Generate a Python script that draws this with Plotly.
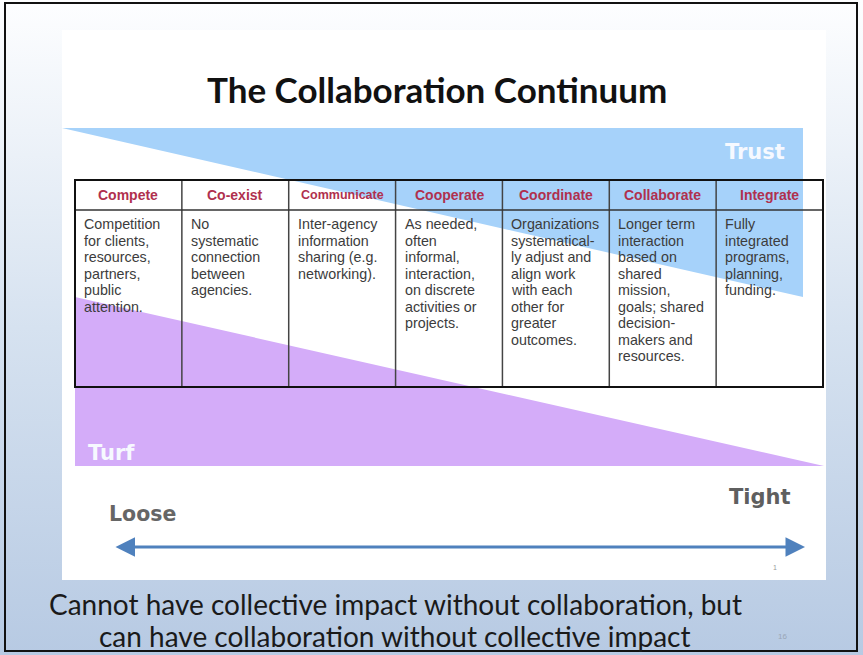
import plotly.graph_objects as go

# ---------------- data (text content of the slide) ----------------
title = "The Collaboration Continuum"
stages = ["Compete", "Co-exist", "Communicate", "Cooperate",
          "Coordinate", "Collaborate", "Integrate"]
descriptions = [
    ["Competition", "for clients,", "resources,", "partners,", "public", "attention."],
    ["No", "systematic", "connection", "between", "agencies."],
    ["Inter-agency", "information", "sharing (e.g.", "networking)."],
    ["As needed,", "often", "informal,", "interaction,", "on discrete",
     "activities or", "projects."],
    ["Organizations", "systematical-", "ly adjust and", "align work", "with each",
     "other for", "greater", "outcomes."],
    ["Longer term", "interaction", "based on", "shared", "mission,",
     "goals; shared", "decision-", "makers and", "resources."],
    ["Fully", "integrated", "programs,", "planning,", "funding."],
]
top_label = "Trust"
bottom_label = "Turf"
scale_ends = ["Loose", "Tight"]
caption = ["Cannot have collective impact without collaboration, but",
           "can have collaboration without collective impact"]
slide_number = "16"

# ---------------- layout geometry / style ----------------
W, H = 863, 655
PANEL = (62, 30, 826, 580)
TABLE = (75, 180, 823, 387)
HEADER_H = 30
LINE_H = 16.5
BLUE = "#a6d2fa"
PURPLE = "#d4acf9"
HEADER_SIZE = 14
HEADER_SIZE_SMALL = {"Communicate": 12.5}

fig = go.Figure()

# slide background with gradient
fig.add_trace(go.Scatter(
    x=[0, W, W, 0, 0], y=[0, 0, H, H, 0], mode="lines", fill="toself",
    line=dict(width=0), hoverinfo="skip", showlegend=False,
    fillgradient=dict(type="vertical", start=0, stop=H,
                      colorscale=[[0, "#fdfeff"], [0.2, "#eef3f9"],
                                  [0.5, "#d6e2f0"], [1, "#b7cae3"]]),
))

shapes = []
# white panel
shapes.append(dict(type="rect", x0=PANEL[0], y0=PANEL[1], x1=PANEL[2], y1=PANEL[3],
                   fillcolor="white", line=dict(width=0)))
# trust (blue) wedge
shapes.append(dict(type="path", path="M 62,128 L 803,128 L 803,297 Z",
                   fillcolor=BLUE, line=dict(width=0)))
# turf (purple) wedge
shapes.append(dict(type="path", path="M 75,297 L 75,466 L 824,466 Z",
                   fillcolor=PURPLE, line=dict(width=0)))

# table grid
tx0, ty0, tx1, ty1 = TABLE
n = len(stages)
cw = (tx1 - tx0) / n
for k in range(1, n):
    xk = tx0 + k * cw
    shapes.append(dict(type="line", x0=xk, x1=xk, y0=ty0, y1=ty1,
                       line=dict(color="#444444", width=1.5)))
shapes.append(dict(type="line", x0=tx0, x1=tx1, y0=ty0 + HEADER_H, y1=ty0 + HEADER_H,
                   line=dict(color="#333333", width=1.5)))
shapes.append(dict(type="rect", x0=tx0, y0=ty0, x1=tx1, y1=ty1,
                   line=dict(color="#111111", width=2), fillcolor="rgba(0,0,0,0)"))
# outer slide frame
shapes.append(dict(type="rect", x0=5, y0=3, x1=857, y1=651,
                   line=dict(color="#111111", width=2), fillcolor="rgba(0,0,0,0)"))

ann = []
# title
ann.append(dict(x=437, y=89, text=title, showarrow=False, xanchor="center", yanchor="middle",
                font=dict(family="Lato", size=35, color="#111111", weight="bold")))
# header + body text
for k, (stage, lines) in enumerate(zip(stages, descriptions)):
    cx = tx0 + (k + 0.5) * cw
    ann.append(dict(x=cx, y=ty0 + HEADER_H / 2, text=stage, showarrow=False,
                    xanchor="center", yanchor="middle",
                    font=dict(family="Liberation Sans",
                              size=HEADER_SIZE_SMALL.get(stage, HEADER_SIZE),
                              color="#b0304e", weight="bold")))
    for i, line in enumerate(lines):
        ann.append(dict(x=tx0 + k * cw + 7, y=ty0 + HEADER_H + 14 + i * LINE_H, text=line,
                        showarrow=False, xanchor="left", yanchor="middle",
                        font=dict(family="Liberation Sans", size=14.3, color="#3c3c3c")))

# Trust / Turf
ann.append(dict(x=755, y=152, text=top_label, showarrow=False, xanchor="center", yanchor="middle",
                font=dict(family="DejaVu Sans", size=21, color="#f6f9ff", weight="bold")))
ann.append(dict(x=86, y=453, text=bottom_label, showarrow=False, xanchor="left", yanchor="middle",
                font=dict(family="DejaVu Sans", size=21, color="#f6f9ff", weight="bold")))
# Loose / Tight
ann.append(dict(x=107, y=514, text=scale_ends[0], showarrow=False, xanchor="left", yanchor="middle",
                font=dict(family="DejaVu Sans", size=20.5, color="#666666", weight="bold")))
ann.append(dict(x=793, y=497, text=scale_ends[1], showarrow=False, xanchor="right", yanchor="middle",
                font=dict(family="DejaVu Sans", size=21, color="#5f5f5f", weight="bold")))
# double arrow
ann.append(dict(x=805, y=547, ax=114, ay=547, xref="x", yref="y", axref="x", ayref="y",
                text="", showarrow=True, arrowhead=2, startarrowhead=2, arrowside="end+start",
                arrowsize=1.3, startarrowsize=1.3, arrowwidth=3, arrowcolor="#4f81bd"))
ann.append(dict(x=775, y=567, text="1", showarrow=False,
                font=dict(family="Liberation Sans", size=7, color="#999999")))
# caption
for i, line in enumerate(caption):
    ann.append(dict(x=395, y=604 + i * 32, text=line, showarrow=False,
                    xanchor="center", yanchor="middle",
                    font=dict(family="Lato", size=28, color="#1a1a1a")))
ann.append(dict(x=782, y=636, text=slide_number, showarrow=False,
                font=dict(family="Liberation Sans", size=8, color="#9aa6b6")))

fig.update_layout(
    width=W, height=H, autosize=False,
    margin=dict(l=0, r=0, t=0, b=0),
    paper_bgcolor="white", plot_bgcolor="rgba(0,0,0,0)",
    xaxis=dict(range=[0, W], visible=False, fixedrange=True),
    yaxis=dict(range=[H, 0], visible=False, fixedrange=True),
    shapes=shapes, annotations=ann, showlegend=False,
)

fig.write_html("out.html", config={"displayModeBar": False},
               post_script="document.body.style.margin='0';")
